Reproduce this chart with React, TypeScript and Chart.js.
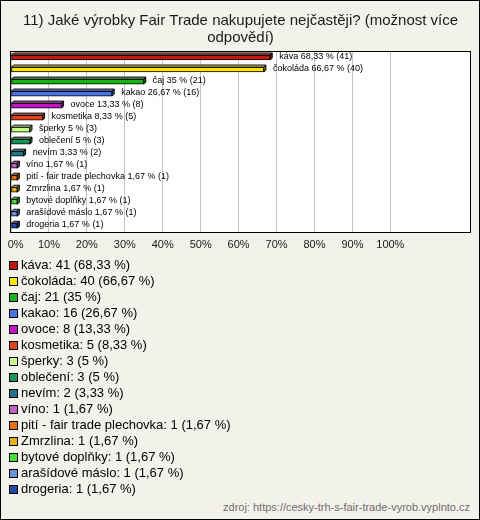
import React, { useEffect, useRef } from "react";
import { Chart, registerables } from "chart.js";

Chart.register(...registerables);

const titleLines = ["11) Jaké výrobky Fair Trade nakupujete nejčastěji? (možnost více", "odpovědí)"];
const categories = [
  "káva",
  "čokoláda",
  "čaj",
  "kakao",
  "ovoce",
  "kosmetika",
  "šperky",
  "oblečení",
  "nevím",
  "víno",
  "pití - fair trade plechovka",
  "Zmrzlina",
  "bytové doplňky",
  "arašídové máslo",
  "drogeria",
];
const counts = [41, 40, 21, 16, 8, 5, 3, 3, 2, 1, 1, 1, 1, 1, 1];
const percents = [68.33, 66.67, 35, 26.67, 13.33, 8.33, 5, 5, 3.33, 1.67, 1.67, 1.67, 1.67, 1.67, 1.67];
const colors = [
  "#c4180c",
  "#ffe400",
  "#16b416",
  "#4a72e6",
  "#c214c8",
  "#e2441a",
  "#c6ff86",
  "#12965a",
  "#1f7688",
  "#c462c4",
  "#e8700e",
  "#e6b010",
  "#42e032",
  "#6a90de",
  "#2848ae",
];
const tickValues = [0, 10, 20, 30, 40, 50, 60, 70, 80, 90, 100];
const sourceText = "zdroj: https://cesky-trh-s-fair-trade-vyrob.vyplnto.cz";

const FONT = "'Liberation Sans', Arial, Helvetica, sans-serif";
const BG = "#f3f2ea";

const fmt = (v: number) => String(v).replace(".", ",");

function mix(hex: string, target: number, amt: number) {
  const n = parseInt(hex.slice(1), 16);
  const r = (n >> 16) & 255, g = (n >> 8) & 255, b = n & 255;
  const m = (c: number) => Math.round(c + (target - c) * amt);
  return `rgb(${m(r)},${m(g)},${m(b)})`;
}

const plotPlugin = {
  id: "plotDecor",
  beforeDraw(chart: any) {
    const { ctx, chartArea } = chart;
    ctx.save();
    ctx.fillStyle = "#ffffff";
    ctx.fillRect(chartArea.left, chartArea.top, chartArea.right - chartArea.left, chartArea.bottom - chartArea.top);
    ctx.restore();
  },
  afterDatasetsDraw(chart: any) {
    const { ctx, chartArea } = chart;
    const meta = chart.getDatasetMeta(0);
    ctx.save();
    ctx.lineWidth = 1;
    ctx.strokeStyle = "#000";
    meta.data.forEach((bar: any, i: number) => {
      const { x, y, base, height } = bar.getProps(["x", "y", "base", "height"], true);
      const top = y - height / 2;
      const bottom = y + height / 2;
      const d = 2;
      ctx.beginPath();
      ctx.moveTo(base, top);
      ctx.lineTo(base + d, top - d);
      ctx.lineTo(x + d, top - d);
      ctx.lineTo(x, top);
      ctx.closePath();
      ctx.fillStyle = mix(colors[i], 255, 0.35);
      ctx.fill();
      ctx.stroke();
      ctx.beginPath();
      ctx.moveTo(x, top);
      ctx.lineTo(x + d, top - d);
      ctx.lineTo(x + d, bottom - d);
      ctx.lineTo(x, bottom);
      ctx.closePath();
      ctx.fillStyle = mix(colors[i], 0, 0.35);
      ctx.fill();
      ctx.stroke();
      ctx.fillStyle = "#000";
      ctx.font = `9px ${FONT}`;
      ctx.textBaseline = "middle";
      ctx.textAlign = "left";
      ctx.fillText(`${categories[i]} ${fmt(percents[i])} % (${counts[i]})`, x + 9, y - 1);
    });
    ctx.strokeStyle = "#000";
    ctx.lineWidth = 1;
    ctx.strokeRect(
      Math.round(chartArea.left) - 0.5,
      Math.round(chartArea.top) - 0.5,
      Math.round(chartArea.right - chartArea.left) + 1,
      Math.round(chartArea.bottom - chartArea.top) + 1
    );
    ctx.restore();
  },
};

export default function App() {
  const ref = useRef<HTMLCanvasElement>(null);

  useEffect(() => {
    document.body.style.margin = "0";
    const canvas = ref.current!;
    const chart = new Chart(canvas, {
      type: "bar",
      data: {
        labels: categories,
        datasets: [
          {
            data: percents,
            backgroundColor: colors,
            borderColor: "#000",
            borderWidth: 1,
            borderSkipped: false,
            barThickness: 5,
          },
        ],
      },
      options: {
        indexAxis: "y",
        animation: false,
        responsive: false,
        devicePixelRatio: 1,
        layout: { padding: { left: 10, right: 9, top: 0, bottom: 4 } },
        plugins: {
          legend: { display: false },
          tooltip: { enabled: false },
          title: {
            display: true,
            text: titleLines,
            color: "#1a1a1a",
            font: { family: FONT, size: 15, weight: "normal", lineHeight: 1.15 },
            padding: { top: 11, bottom: 5 },
          },
        },
        scales: {
          y: { display: false },
          x: {
            min: 0,
            max: 121,
            afterBuildTicks: (axis: any) => {
              axis.ticks = tickValues.map((v) => ({ value: v }));
            },
            afterFit: (axis: any) => {
              axis.paddingLeft = 0;
              axis.paddingRight = 0;
            },
            ticks: {
              callback: (v: any) => (v === 0 ? "   0%" : `${v}%`),
              color: "#1a1a1a",
              font: { family: FONT, size: 11 },
              padding: 7,
              maxRotation: 0,
              autoSkip: false,
            },
            grid: { color: "#c4c4c4", drawTicks: false, lineWidth: 1 },
            border: { display: false },
          },
        },
      },
      plugins: [plotPlugin],
    } as any);
    return () => chart.destroy();
  }, []);

  return (
    <div
      style={{
        position: "relative",
        width: 478,
        height: 518,
        border: "1px solid #000",
        background: BG,
        fontFamily: FONT,
        overflow: "hidden",
      }}
    >
      <canvas ref={ref} width={478} height={262} style={{ display: "block", width: 478, height: 262 }} />
      <div style={{ position: "absolute", left: 8, top: 256 }}>
        {categories.map((c, i) => (
          <div key={c} style={{ height: 16, lineHeight: "16px", fontSize: 13, color: "#000", display: "flex", alignItems: "center" }}>
            <span
              style={{
                display: "inline-block",
                width: 7,
                height: 7,
                border: "1px solid #000",
                background: colors[i],
                marginRight: 3,
              }}
            />
            <span>{`${c}: ${counts[i]} (${fmt(percents[i])} %)`}</span>
          </div>
        ))}
      </div>
      <div
        style={{
          position: "absolute",
          right: 9,
          top: 500,
          fontSize: 11,
          lineHeight: "13px",
          color: "#6e6e6e",
          whiteSpace: "nowrap",
        }}
      >
        {sourceText}
      </div>
    </div>
  );
}
